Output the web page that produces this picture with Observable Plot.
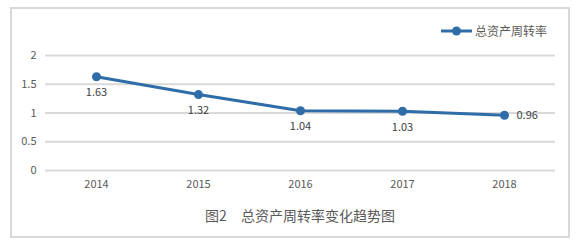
<!DOCTYPE html>
<html><head><meta charset="utf-8">
<script src="https://cdn.jsdelivr.net/npm/d3@7"></script>
<script src="https://cdn.jsdelivr.net/npm/@observablehq/plot@0.6"></script>
<style>
html,body{margin:0;padding:0;background:#fff;width:580px;height:245px;overflow:hidden;}
#wrap{position:relative;width:580px;height:245px;font-family:"Noto Sans CJK SC","Noto Sans",sans-serif;}
#frame{position:absolute;left:10px;top:7px;width:556px;height:227px;border:2px solid #d9d9d9;}
#chart{position:absolute;left:0;top:0;}
#legend{position:absolute;left:440px;top:22px;font-size:12px;color:#595959;display:flex;align-items:center;}
#title{position:absolute;left:0;width:600px;top:205px;text-align:center;font-size:14px;color:#595959;}
</style></head>
<body><div id="wrap"><div id="frame"></div><div id="chart"></div>
<div id="legend"><svg width="33" height="12"><line x1="1" y1="6" x2="32" y2="6" stroke="#2e6da8" stroke-width="3"/><circle cx="16.5" cy="6" r="4.5" fill="#2e6da8"/></svg><span id="legText" style="margin-left:2px"></span></div>
<div id="title"></div></div>
<script>
const years = ["2014","2015","2016","2017","2018"];
const values = [1.63, 1.32, 1.04, 1.03, 0.96];
const yTicks = [0, 0.5, 1, 1.5, 2];
const seriesName = "总资产周转率";
const titleText = "图2　总资产周转率变化趋势图";
const labelPos = ["below","below","below","below","right"];

const data = years.map((y,i)=>({year:y, value:values[i], pos:labelPos[i]}));
const color = "#2e6da8";
const chart = Plot.plot({
  width: 580, height: 200,
  marginLeft: 45, marginRight: 25, marginTop: 55, marginBottom: 30,
  style: {fontFamily: '"Noto Sans CJK SC","Noto Sans",sans-serif', fontSize: "11px", color: "#595959", background: "transparent"},
  x: {type: "point", domain: years, padding: 0.5, label: null},
  y: {domain: [0, 2], label: null},
  marks: [
    Plot.ruleY(yTicks, {stroke: "#d9d9d9", strokeWidth: 2}),
    Plot.axisY({ticks: yTicks, tickSize: 0, tickPadding: 9, tickFormat: d => String(d), fill: "#595959", fontSize: 11}),
    Plot.axisX({tickSize: 0, tickPadding: 10, fill: "#595959", fontSize: 11}),
    Plot.line(data, {x: "year", y: "value", stroke: color, strokeWidth: 3}),
    Plot.dot(data, {x: "year", y: "value", r: 4.5, fill: color}),
    Plot.text(data.filter(d=>d.pos==="below"), {x: "year", y: "value", text: d => d.value.toFixed(2), dy: 16, fill: "#404040", fontSize: 11}),
    Plot.text(data.filter(d=>d.pos==="right"), {x: "year", y: "value", text: d => d.value.toFixed(2), dx: 12, textAnchor: "start", fill: "#404040", fontSize: 11})
  ]
});
document.getElementById("chart").appendChild(chart);
document.getElementById("legText").textContent = seriesName;
document.getElementById("title").textContent = titleText;
</script></body></html>
